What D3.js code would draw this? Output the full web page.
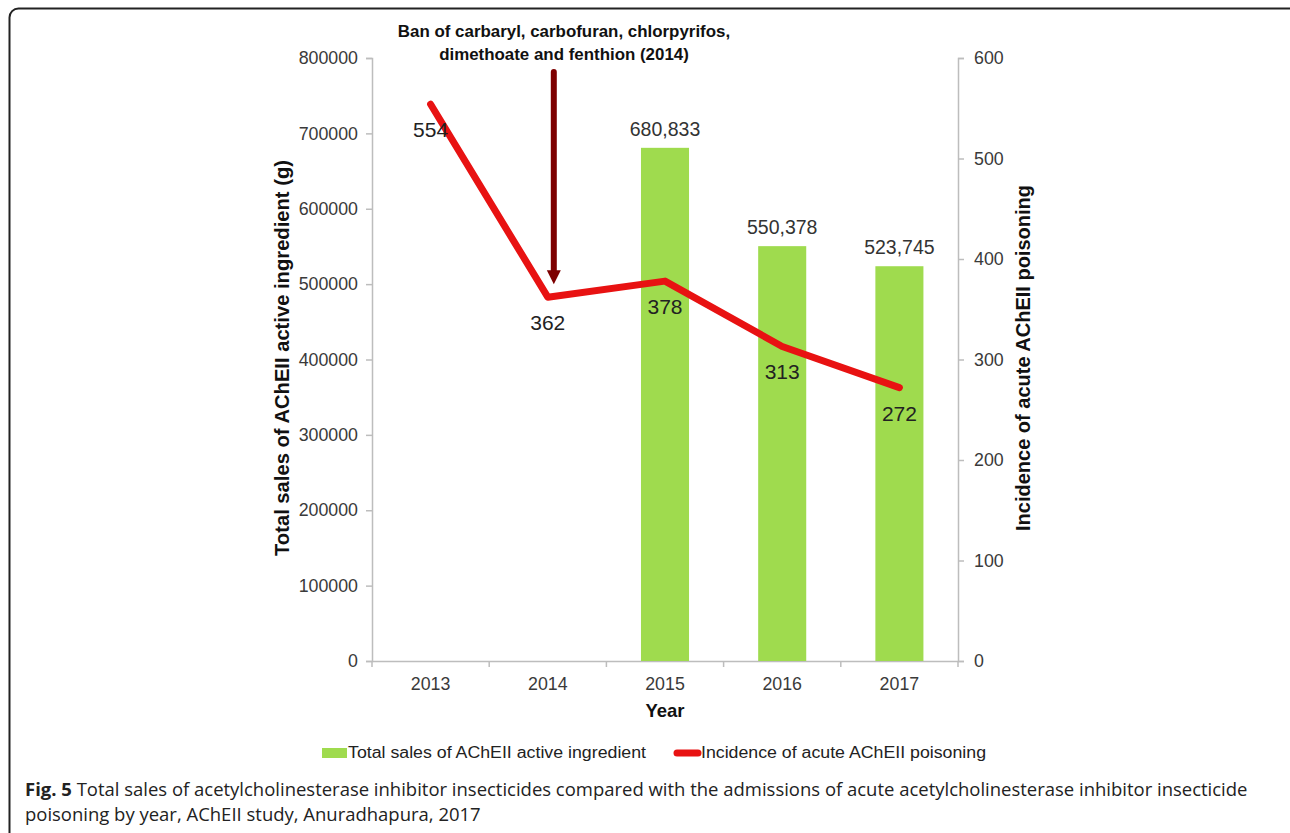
<!DOCTYPE html>
<html>
<head>
<meta charset="utf-8">
<script src="https://cdn.jsdelivr.net/npm/d3@7"></script>
<style>
  body { margin: 0; background: #fff; }
  svg { display: block; }
</style>
</head>
<body>
<div id="chart"></div>
<script>
// data
years = ['2013', '2014', '2015', '2016', '2017'];
sales = [null, null, 680833, 550378, 523745];
incidence = [554, 362, 378, 313, 272];
salesTicks = [0, 100000, 200000, 300000, 400000, 500000, 600000, 700000, 800000];
incTicks = [0, 100, 200, 300, 400, 500, 600];
annotation = ['Ban of carbaryl, carbofuran, chlorpyrifos,', 'dimethoate and fenthion (2014)'];
banYear = '2014';
legendLabels = ['Total sales of AChEII active ingredient', 'Incidence of acute AChEII poisoning'];
caption1 = 'Total sales of acetylcholinesterase inhibitor insecticides compared with the admissions of acute acetylcholinesterase inhibitor insecticide';
caption2 = 'poisoning by year, AChEII study, Anuradhapura, 2017';

W = 1290;
H = 833;
bar_color = '#9fdb4e';
line_color = '#e81212';
arrow_color = '#7d0000';
axis_color = '#bdbdbd';
font = 'Liberation Sans, Arial, sans-serif';

plot_l = 372; plot_r = 958; plot_t = 58; plot_b = 661;

svg = d3.select('#chart').append('svg')
  .attr('width', W)
  .attr('height', H);

// frame round the figure
svg.append('rect')
  .attr('x', 9.5).attr('y', 8.5)
  .attr('width', 1300).attr('height', 860)
  .attr('rx', 9)
  .attr('fill', 'none')
  .attr('stroke', '#222')
  .attr('stroke-width', 2);

x = d3.scaleBand().domain(years).range([plot_l, plot_r]);
yL = d3.scaleLinear().domain([0, 800000]).range([plot_b, plot_t]);
yR = d3.scaleLinear().domain([0, 600]).range([plot_b, plot_t]);

// left axis
gl = svg.append('g').attr('transform', 'translate(' + plot_l + ',0)')
  .call(d3.axisLeft(yL).tickValues(salesTicks).tickSize(6).tickPadding(8).tickFormat(d3.format('d')));
// right axis
gr = svg.append('g').attr('transform', 'translate(' + plot_r + ',0)')
  .call(d3.axisRight(yR).tickValues(incTicks).tickSize(6).tickPadding(10).tickFormat(d3.format('d')));
// bottom axis (labels only, boundary ticks drawn below)
gb = svg.append('g').attr('transform', 'translate(0,' + plot_b + ')')
  .call(d3.axisBottom(x).tickSize(0).tickPadding(16));

[gl, gr, gb].forEach(function (g) {
  g.selectAll('path.domain').attr('stroke', axis_color).attr('stroke-width', 1.5);
  g.selectAll('.tick line').attr('stroke', axis_color).attr('stroke-width', 1.5);
  g.selectAll('.tick text')
    .attr('font-family', font)
    .attr('font-size', 17.8)
    .attr('fill', '#3a3a3a');
});

bounds = years.map(function (d) { return x(d); }).concat([x.range()[1]]);
svg.append('g').selectAll('line')
  .data(bounds)
  .join('line')
  .attr('x1', function (d) { return d; })
  .attr('x2', function (d) { return d; })
  .attr('y1', plot_b)
  .attr('y2', plot_b + 6)
  .attr('stroke', axis_color)
  .attr('stroke-width', 1.5);

// bars
bw = x.bandwidth() * 0.41;
barData = years.map(function (d, i) { return { year: d, v: sales[i] }; })
  .filter(function (d) { return d.v != null; });

svg.append('g').selectAll('rect')
  .data(barData)
  .join('rect')
  .attr('x', function (d) { return x(d.year) + x.bandwidth() / 2 - bw / 2; })
  .attr('y', function (d) { return yL(d.v); })
  .attr('width', bw)
  .attr('height', function (d) { return yL(0) - yL(d.v); })
  .attr('fill', bar_color);

svg.append('g').selectAll('text')
  .data(barData)
  .join('text')
  .attr('x', function (d) { return x(d.year) + x.bandwidth() / 2; })
  .attr('y', function (d) { return yL(d.v) - 12; })
  .attr('text-anchor', 'middle')
  .attr('font-family', font)
  .attr('font-size', 19.5)
  .attr('fill', '#333')
  .text(function (d) { return d3.format(',')(d.v); });

// incidence line
lineData = years.map(function (d, i) { return { year: d, v: incidence[i] }; });
line = d3.line()
  .x(function (d) { return x(d.year) + x.bandwidth() / 2; })
  .y(function (d) { return yR(d.v); });

svg.append('path')
  .datum(lineData)
  .attr('d', line)
  .attr('fill', 'none')
  .attr('stroke', line_color)
  .attr('stroke-width', 7)
  .attr('stroke-linejoin', 'round')
  .attr('stroke-linecap', 'round');

svg.append('g').selectAll('text')
  .data(lineData)
  .join('text')
  .attr('x', function (d) { return x(d.year) + x.bandwidth() / 2; })
  .attr('y', function (d) { return yR(d.v) + 33; })
  .attr('text-anchor', 'middle')
  .attr('font-family', font)
  .attr('font-size', 21)
  .attr('fill', '#222')
  .text(function (d) { return d.v; });

// ban arrow
ax = x(banYear) + x.bandwidth() / 2 + 6;
arrow_top = 72;
arrow_tip = yR(incidence[years.indexOf(banYear)]) - 13;
svg.append('line')
  .attr('x1', ax).attr('x2', ax)
  .attr('y1', arrow_top).attr('y2', arrow_tip - 10)
  .attr('stroke', arrow_color)
  .attr('stroke-width', 6)
  .attr('stroke-linecap', 'round');
svg.append('path')
  .attr('d', 'M' + (ax - 7) + ',' + (arrow_tip - 14) + 'L' + (ax + 7) + ',' + (arrow_tip - 14) + 'L' + ax + ',' + arrow_tip + 'Z')
  .attr('fill', arrow_color);

svg.append('g').selectAll('text')
  .data(annotation)
  .join('text')
  .attr('x', 564)
  .attr('y', function (d, i) { return 37 + i * 23; })
  .attr('text-anchor', 'middle')
  .attr('font-family', font)
  .attr('font-weight', 'bold')
  .attr('font-size', 16.9)
  .attr('fill', '#111')
  .text(function (d) { return d; });

// axis titles
svg.append('text')
  .attr('transform', 'translate(289,358) rotate(-90)')
  .attr('text-anchor', 'middle')
  .attr('font-family', font)
  .attr('font-weight', 'bold')
  .attr('font-size', 20.2)
  .attr('fill', '#111')
  .text('Total sales of AChEII active ingredient (g)');

svg.append('text')
  .attr('transform', 'translate(1030,358) rotate(-90)')
  .attr('text-anchor', 'middle')
  .attr('font-family', font)
  .attr('font-weight', 'bold')
  .attr('font-size', 20)
  .attr('fill', '#111')
  .text('Incidence of acute AChEII poisoning');

svg.append('text')
  .attr('x', x('2015') + x.bandwidth() / 2)
  .attr('y', 717)
  .attr('text-anchor', 'middle')
  .attr('font-family', font)
  .attr('font-weight', 'bold')
  .attr('font-size', 18.5)
  .attr('fill', '#111')
  .text('Year');

// legend
lg = svg.append('g');
lg.append('rect')
  .attr('x', 322).attr('y', 748)
  .attr('width', 25).attr('height', 10)
  .attr('fill', bar_color);
lg.append('text')
  .attr('x', 348).attr('y', 758)
  .attr('font-family', font)
  .attr('font-size', 16)
  .attr('fill', '#222')
  .attr('textLength', 298)
  .attr('lengthAdjust', 'spacingAndGlyphs')
  .text(legendLabels[0]);
lg.append('line')
  .attr('x1', 677).attr('x2', 698)
  .attr('y1', 753).attr('y2', 753)
  .attr('stroke', line_color)
  .attr('stroke-width', 7)
  .attr('stroke-linecap', 'round');
lg.append('text')
  .attr('x', 701).attr('y', 758)
  .attr('font-family', font)
  .attr('font-size', 16)
  .attr('fill', '#222')
  .attr('textLength', 285)
  .attr('lengthAdjust', 'spacingAndGlyphs')
  .text(legendLabels[1]);

// caption
cap = svg.append('text')
  .attr('x', 25).attr('y', 796)
  .attr('font-family', 'Open Sans, sans-serif')
  .attr('font-size', 17)
  .attr('fill', '#222');
cap.append('tspan').attr('font-weight', 'bold').text('Fig. 5');
cap.append('tspan').text(' ' + caption1);
cap2 = svg.append('text')
  .attr('x', 25).attr('y', 821)
  .attr('font-family', 'Open Sans, sans-serif')
  .attr('font-size', 17)
  .attr('fill', '#222')
  .text(caption2);

// fit caption width to the figure
w = cap.node().getComputedTextLength();
fs = 17 * 1223 / w;
cap.attr('font-size', fs);
cap2.attr('font-size', fs);
</script>
</body>
</html>
